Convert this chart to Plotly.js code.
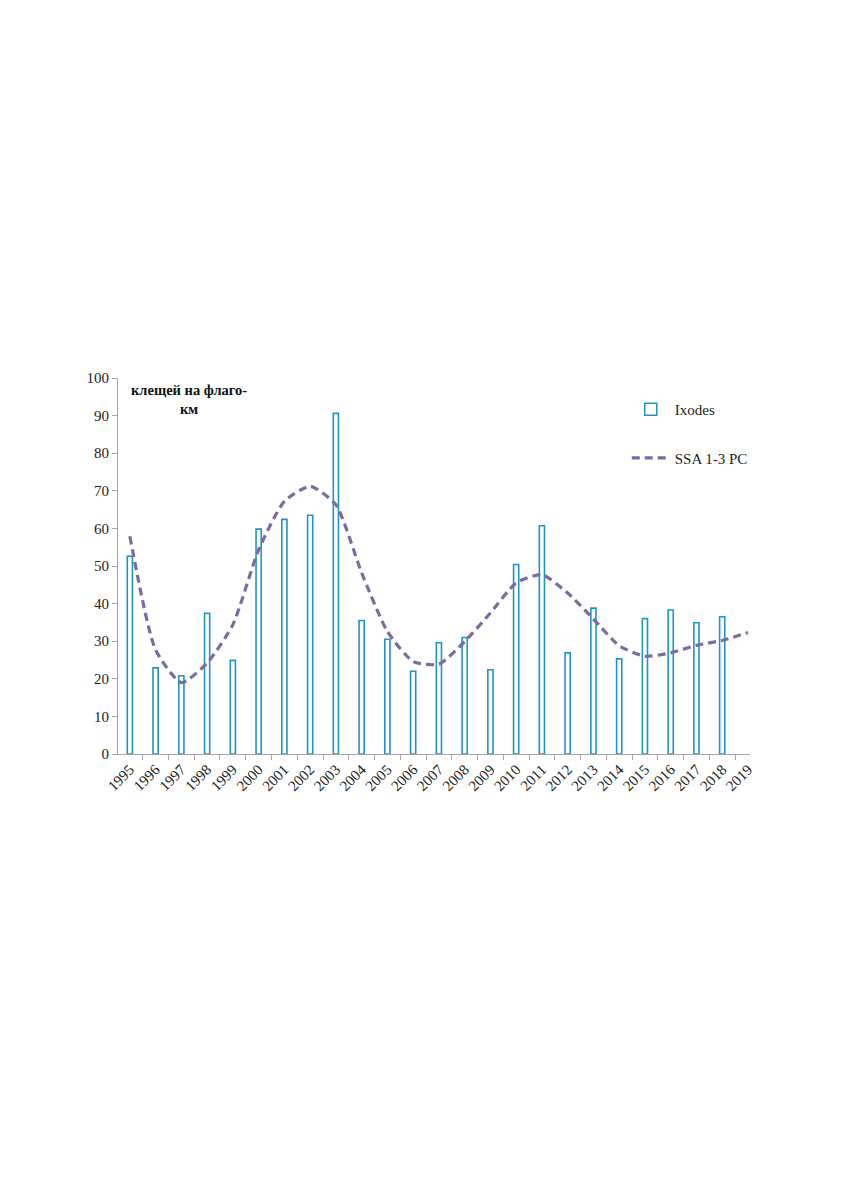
<!DOCTYPE html>
<html>
<head>
<meta charset="utf-8">
<script src="https://cdn.plot.ly/plotly-3.0.1.min.js"></script>
<style>
  body { margin: 0; background: #fff; }
  #chart { width: 856px; height: 1181px; }
</style>
</head>
<body>
<div id="chart"></div>
<script>
var years = [1995, 1996, 1997, 1998, 1999, 2000, 2001, 2002, 2003, 2004, 2005, 2006,
             2007, 2008, 2009, 2010, 2011, 2012, 2013, 2014, 2015, 2016, 2017, 2018, 2019];
// ticks per flag-km, Ixodes (no bar for 2019)
var ixodes = [52.6, 22.9, 20.8, 37.4, 24.9, 59.8, 62.4, 63.5, 90.6, 35.5, 30.5, 22.0,
              29.6, 31.0, 22.4, 50.4, 60.7, 26.9, 38.8, 25.3, 36.0, 38.3, 34.9, 36.5, null];
// SSA reconstruction, components 1-3
var ssa = [57.9, 27.7, 19.0, 24.2, 34.4, 54.3, 67.2, 71.2, 66.3, 48.2, 32.6, 24.6,
           23.9, 29.9, 37.5, 45.5, 47.7, 42.8, 35.9, 28.8, 26.0, 26.9, 28.9, 30.2, 32.3];
var yTicks = [0, 10, 20, 30, 40, 50, 60, 70, 80, 90, 100];

var serif = '"Liberation Serif", "Times New Roman", serif';
var axisGrey = '#a6a6a6';
var xRange = [years[0] - 0.46, years[years.length - 1] + 0.08];

var bars = {
  x: years, y: ixodes, type: 'bar', name: 'Ixodes',
  width: 0.2,
  marker: {color: '#ffffff', line: {color: '#1f95c6', width: 1.6}},
  legendgroup: 'a'
};
var line = {
  x: years, y: ssa, type: 'scatter', mode: 'lines', name: 'SSA 1-3 PC',
  xaxis: 'x2',
  line: {color: '#7c6aa0', width: 3.2, dash: '8px,5px', shape: 'spline', smoothing: 0.6},
  legendgroup: 'b'
};

var layout = {
  width: 856, height: 1181,
  margin: {l: 118, r: 106, t: 378, b: 427},
  paper_bgcolor: '#ffffff',
  plot_bgcolor: '#ffffff',
  font: {family: serif, size: 15, color: '#222'},
  showlegend: true,
  legend: {
    x: 0.805, y: 0.96, xanchor: 'left', yanchor: 'top',
    bgcolor: 'rgba(0,0,0,0)', tracegroupgap: 26, itemwidth: 38,
    font: {family: serif, size: 15, color: '#222'}
  },
  xaxis: {
    type: 'linear', range: xRange,
    tickvals: years, ticktext: years.map(String),
    tickangle: -45, ticks: '', showgrid: false, zeroline: false,
    showline: true, linecolor: axisGrey, linewidth: 1,
    tickfont: {family: serif, size: 15, color: '#222'}
  },
  xaxis2: {
    type: 'linear', range: xRange, overlaying: 'x', anchor: 'y',
    tickvals: years.slice(0, -1).map(function(v) { return v + 0.5; }),
    ticks: 'outside', ticklen: 5, tickcolor: axisGrey,
    showticklabels: false, showgrid: false, zeroline: false, showline: false
  },
  yaxis: {
    range: [0, 100], tickvals: yTicks,
    ticks: 'outside', ticklen: 5, tickcolor: axisGrey,
    showgrid: false, zeroline: false,
    showline: true, linecolor: axisGrey, linewidth: 1,
    tickfont: {family: serif, size: 15, color: '#222'}
  },
  annotations: [{
    text: '<b>клещей на флаго-<br>км</b>',
    xref: 'paper', yref: 'paper', x: 0.112, y: 0.995,
    xanchor: 'center', yanchor: 'top', showarrow: false, align: 'center',
    font: {family: serif, size: 14.5, color: '#111'}
  }]
};

Plotly.newPlot('chart', [bars, line], layout, {displayModeBar: false});
</script>
</body>
</html>
